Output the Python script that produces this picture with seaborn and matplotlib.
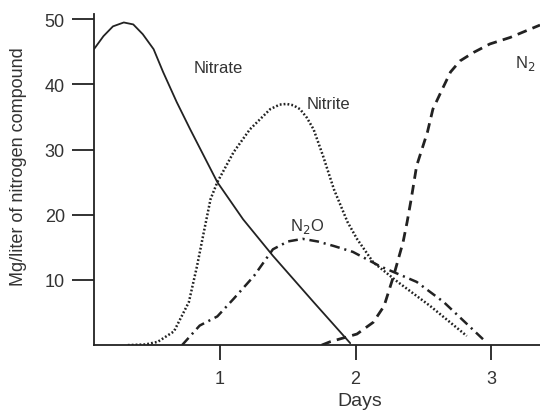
import matplotlib
matplotlib.use("Agg")
import matplotlib.pyplot as plt
import seaborn as sns

# values
nitrate_days = [0.07, 0.14, 0.21, 0.29, 0.36, 0.43, 0.51, 0.58, 0.68, 0.78, 0.98, 1.17, 1.39, 1.69, 1.96]
nitrate_mg = [45.4, 47.4, 48.9, 49.5, 49.2, 47.7, 45.4, 41.9, 37.3, 33.1, 25.0, 19.3, 13.7, 6.6, 0.3]

nitrite_days = [0.32, 0.45, 0.54, 0.66, 0.77, 0.83, 0.88, 0.93, 0.98, 1.10, 1.22, 1.37,
                1.44, 1.49, 1.54, 1.59, 1.64, 1.69, 1.76, 1.84, 1.94, 2.01, 2.13, 2.31, 2.55, 2.82]
nitrite_mg = [0.0, 0.1, 0.5, 2.1, 6.6, 12.1, 17.3, 22.4, 25.0, 29.6, 33.1, 36.2,
              36.9, 37.0, 36.8, 36.2, 34.9, 33.1, 29.0, 23.9, 18.9, 16.3, 12.7, 9.7, 6.0, 1.4]

n2o_days = [0.72, 0.85, 0.98, 1.10, 1.25, 1.39, 1.50, 1.61, 1.72, 1.84, 1.98, 2.18, 2.45, 2.65, 2.94]
n2o_mg = [0.0, 3.0, 4.4, 7.1, 10.6, 14.7, 15.9, 16.3, 15.9, 15.2, 14.3, 12.1, 9.7, 6.6, 0.9]

n2_days = [1.75, 1.81, 2.01, 2.13, 2.21, 2.28, 2.35, 2.38, 2.41, 2.45, 2.53, 2.57,
           2.64, 2.70, 2.77, 2.87, 2.99, 3.14, 3.29, 3.36]
n2_mg = [0.0, 0.5, 1.7, 3.5, 6.0, 10.6, 15.8, 18.9, 22.4, 27.5, 32.7, 36.2,
         39.3, 41.9, 43.6, 44.9, 46.2, 47.2, 48.5, 49.1]

x_ticks = [1, 2, 3]
y_ticks = [10, 20, 30, 40, 50]

sns.set_style("ticks")
plt.rcParams['font.family'] = ['Liberation Sans', 'DejaVu Sans']
plt.rcParams['lines.scale_dashes'] = False

ink = "#222222"
fig = plt.figure(figsize=(5.4, 4.14), dpi=100)
ax = fig.add_axes([0.174, 0.164, 0.826, 0.836])

sns.lineplot(x=nitrate_days, y=nitrate_mg, ax=ax, sort=False, color=ink, lw=1.3)
sns.lineplot(x=nitrite_days, y=nitrite_mg, ax=ax, sort=False, color=ink, lw=1.8,
             linestyle=(0, (1.3, 1.5)))
sns.lineplot(x=n2o_days, y=n2o_mg, ax=ax, sort=False, color=ink, lw=1.8,
             linestyle=(0, (7, 3.5, 1.5, 3.5)))
sns.lineplot(x=n2_days, y=n2_mg, ax=ax, sort=False, color=ink, lw=2.0,
             linestyle=(0, (7, 4.5)))

ax.set_xlim(0.07, 3.36)
ax.set_ylim(0, 53.1)
ax.set_xticks(x_ticks)
ax.set_yticks(y_ticks)
ax.tick_params(axis='y', length=16, width=1.3, color=ink, labelsize=13, labelcolor="#333333", pad=5)
ax.tick_params(axis='x', length=11, width=1.3, color=ink, labelsize=13, labelcolor="#333333", pad=7)
for side in ['top', 'right']:
    ax.spines[side].set_visible(False)
ax.spines['left'].set_bounds(0, 50.8)
ax.spines['left'].set_linewidth(1.3)
ax.spines['bottom'].set_linewidth(1.3)
ax.spines['left'].set_color(ink)
ax.spines['bottom'].set_color(ink)

ax.set_ylabel("Mg/liter of nitrogen compound", fontsize=13, color="#333333")
ax.set_xlabel("Days", fontsize=14, color="#333333")
ax.yaxis.set_label_coords(-0.15, 0.52)
ax.xaxis.set_label_coords(0.596, -0.135)

txt = dict(fontsize=12, color="#333333", ha='center', va='center')
ax.text(0.99, 42.6, "Nitrate", **txt)
ax.text(1.80, 37.1, "Nitrite", **txt)
ax.text(1.64, 18.3, "N$_2$O", **txt)
ax.text(3.25, 43.4, "N$_2$", **txt)

fig.savefig("out.png", dpi=100)
